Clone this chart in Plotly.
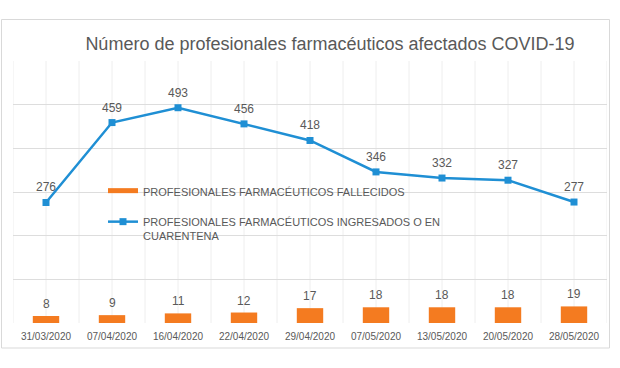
import plotly.graph_objects as go

fechas = ["31/03/2020", "07/04/2020", "16/04/2020", "22/04/2020", "29/04/2020",
          "07/05/2020", "13/05/2020", "20/05/2020", "28/05/2020"]
fallecidos = [8, 9, 11, 12, 17, 18, 18, 18, 19]
ingresados = [276, 459, 493, 456, 418, 346, 332, 327, 277]

titulo = "Número de profesionales farmacéuticos afectados COVID-19"
nombre_fallecidos = "PROFESIONALES FARMACÉUTICOS FALLECIDOS"
nombre_ingresados = "PROFESIONALES FARMACÉUTICOS INGRESADOS O EN<br>CUARENTENA"

NARANJA = "#F47B20"
AZUL = "#1F8FD4"
GRIS = "#595959"
FONT = "Liberation Sans, Arial, sans-serif"

W, H = 620, 368
ML, MR, MT, MB = 13, 13, 61, 45
PW, PH = W - ML - MR, H - MT - MB

def px_x(p):
    return (p - ML) / PW

def px_y(p):
    return (H - MB - p) / PH

fig = go.Figure()

fig.add_trace(go.Bar(
    x=fechas, y=fallecidos, name=nombre_fallecidos,
    marker=dict(color=NARANJA, line=dict(width=0)),
    width=0.4, showlegend=False, yaxis="y",
))
# legend entry drawn as a thick orange dash (like the reference)
fig.add_trace(go.Scatter(
    x=[None], y=[None], mode="lines", name=nombre_fallecidos,
    line=dict(color=NARANJA, width=5), legendgroup="a",
))
fig.add_trace(go.Scatter(
    x=fechas, y=ingresados, name=nombre_ingresados, mode="lines+markers",
    line=dict(color=AZUL, width=2.5),
    marker=dict(symbol="square", size=7, color=AZUL),
    yaxis="y2", legendgroup="b",
))

annotations = []
for f, v in zip(fechas, fallecidos):
    annotations.append(dict(x=f, y=v, xref="x", yref="y", text=str(v), showarrow=False,
                            yshift=12, font=dict(family=FONT, size=12, color=GRIS)))
for f, v in zip(fechas, ingresados):
    annotations.append(dict(x=f, y=v, xref="x", yref="y2", text=str(v), showarrow=False,
                            yshift=15, font=dict(family=FONT, size=12, color=GRIS)))

shapes = []
# vertical gridlines at category centres and boundaries
n = len(fechas)
for k in range(2 * n + 1):
    shapes.append(dict(type="line", xref="x", yref="paper", x0=k / 2 - 0.5, x1=k / 2 - 0.5,
                       y0=0, y1=1, line=dict(color="#EEEEEE", width=1), layer="below"))
# outer chart frame
shapes.append(dict(type="rect", xref="paper", yref="paper",
                   x0=px_x(1.5), x1=px_x(609.5), y0=px_y(348), y1=px_y(19.5),
                   line=dict(color="#D9D9D9", width=1), fillcolor="rgba(0,0,0,0)", layer="below"))

fig.update_layout(
    width=W, height=H,
    margin=dict(l=ML, r=MR, t=MT, b=MB),
    paper_bgcolor="white", plot_bgcolor="white",
    font=dict(family=FONT, color=GRIS),
    title=dict(text=titulo, x=330 / W, xref="container", xanchor="center",
               y=1 - 43.7 / H, yref="container", yanchor="middle",
               font=dict(family=FONT, size=18, color=GRIS)),
    bargap=0.6,
    xaxis=dict(type="category", showgrid=False, zeroline=False, showline=False,
               ticks="", tickfont=dict(family=FONT, size=10, color=GRIS),
               ticklabelstandoff=6, range=[-0.5, n - 0.5]),
    yaxis=dict(range=[0, 300], dtick=50, showgrid=True, gridcolor="#DDDDDD", gridwidth=1,
               zeroline=False, showticklabels=False, showline=False, ticks=""),
    yaxis2=dict(range=[0, 600], dtick=100, overlaying="y", side="right", showgrid=False,
                zeroline=False, showticklabels=False, showline=False, ticks=""),
    legend=dict(x=px_x(103), y=px_y(177), xanchor="left", yanchor="top",
                bgcolor="rgba(0,0,0,0)", font=dict(family=FONT, size=11, color=GRIS),
                traceorder="grouped", tracegroupgap=12, valign="top", itemwidth=30),
    showlegend=True,
    annotations=annotations,
    shapes=shapes,
)

fig.write_html("out.html", config={"displayModeBar": False},
               post_script="document.body.style.margin='0';document.body.style.padding='0';")
